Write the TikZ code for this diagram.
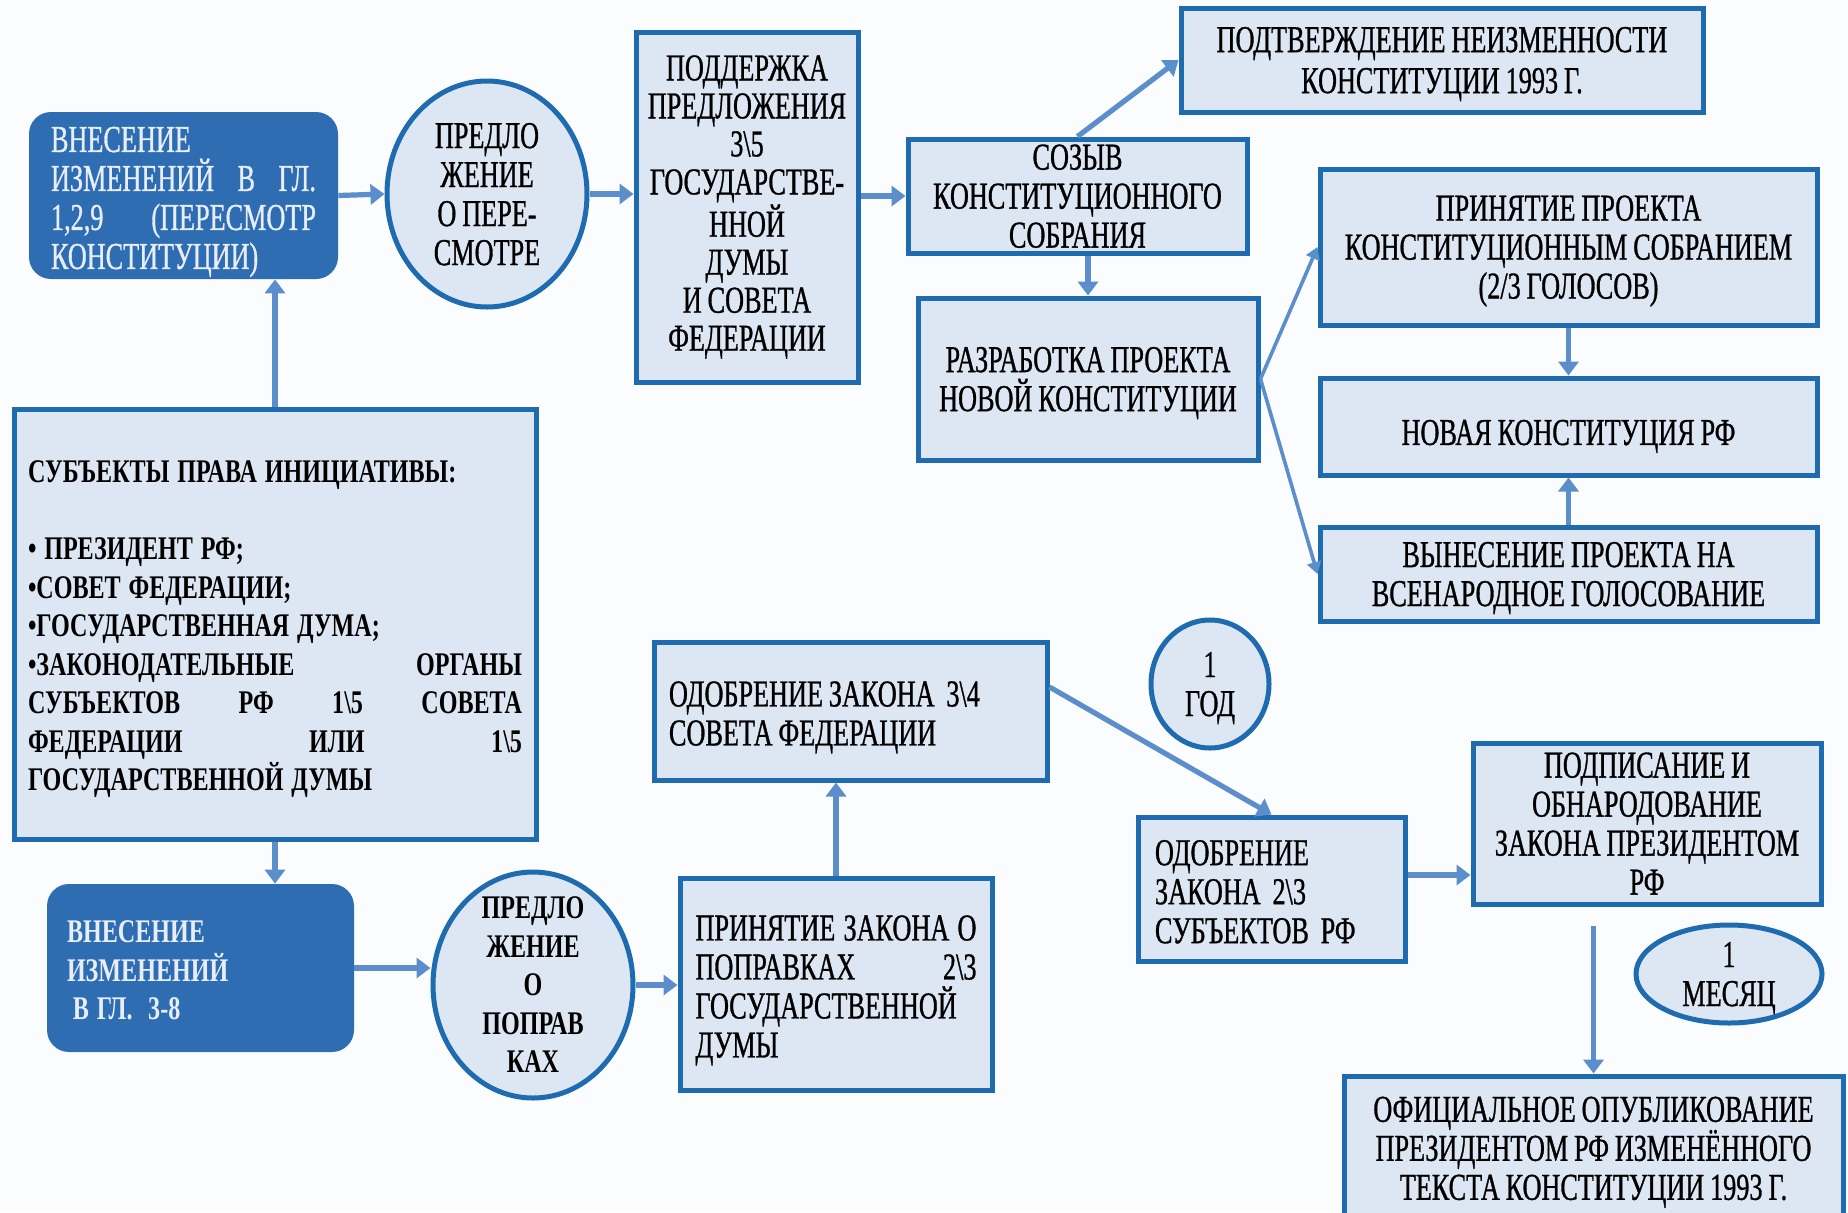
\documentclass[tikz,border=0pt]{standalone}
\usepackage{fontspec}
\setmainfont{Liberation Serif}
\newfontfamily\tallfont{Liberation Serif}[FakeStretch=0.69, FakeBold=0.8, WordSpace=0.9]
\newfontfamily\heavyfont{Liberation Serif}[FakeStretch=0.73, WordSpace=1.3]
\usetikzlibrary{arrows.meta,shapes.geometric}

\definecolor{edgeblue}{HTML}{1F6BB0}
\definecolor{paleblue}{HTML}{DDE7F3}
\definecolor{deepblue}{HTML}{2F6DB3}
\definecolor{arrowblue}{HTML}{5B8ECB}
\definecolor{bgwhite}{HTML}{FAFCFE}
\definecolor{lighttext}{HTML}{E8EEF7}

\newcommand{\boxfont}{\tallfont\fontsize{19}{19.5}\selectfont}
\newcommand{\heavybox}{\heavyfont\fontsize{16.5}{19.25}\selectfont\bfseries}
\newcommand{\bsl}{\textbackslash}

\tikzset{
  padded/.style={execute at begin node={\rule{0pt}{\dimexpr1em+#1\relax}},
    execute at end node={\rule[-0.2em]{0pt}{0pt}}},
  padded/.default=0pt,
  stage/.style={draw=edgeblue, line width=2.5pt, fill=paleblue, inner sep=0pt,
    align=center, font=\boxfont, padded},
  chapter/.style={fill=deepblue, rounded corners=11pt, text=lighttext, inner sep=0pt,
    align=flush left, font=\boxfont, padded},
  offer/.style={ellipse, draw=edgeblue, line width=2.5pt, fill=paleblue,
    inner xsep=0pt, inner ysep=-14pt, align=center, font=\boxfont, text depth=-4.5pt},
  heavy/.style={font=\heavybox},
  link/.style={draw=arrowblue, line width=2.6pt, -{Triangle[width=10pt,length=7pt]}},
  thinlink/.style={link, line width=1.8pt, -{Triangle[width=7pt,length=6pt]}},
}

\begin{document}
\begin{tikzpicture}[x=0.5pt, y=-0.5pt]
  \fill[bgwhite] (0,0) rectangle (1848,1212);
  \useasboundingbox (0,0) rectangle (1848,1212);

  \node[chapter, minimum width=154.5pt, minimum height=83.5pt, text width=132.5pt] (ch129) at (183.5,195.5)
    {ВНЕСЕНИЕ\\ИЗМЕНЕНИЙ\hfill В\hfill ГЛ.\\1,2,9\hfill (ПЕРЕСМОТР\\КОНСТИТУЦИИ)};
  \node[offer, minimum width=100pt, minimum height=113pt] (offer1) at (487,194)
    {ПРЕДЛО\\ЖЕНИЕ\\О ПЕРЕ-\\СМОТРЕ};
  \node[stage, minimum width=111pt, minimum height=175pt, font=\tallfont\fontsize{19}{19}\selectfont] (support) at (747,207)
    {ПОДДЕРЖКА\\ПРЕДЛОЖЕНИЯ\\3\bsl 5\\ГОСУДАРСТВЕ-\\ННОЙ\\ДУМЫ\\И СОВЕТА\\ФЕДЕРАЦИИ};
  \node[stage, minimum width=169.5pt, minimum height=57pt, text depth=-0.9pt] (sozyv) at (1077.5,196)
    {СОЗЫВ\\КОНСТИТУЦИОННОГО\\СОБРАНИЯ};
  \node[stage, minimum width=261pt, minimum height=52pt, text depth=-2pt, font=\tallfont\fontsize{19}{20.5}\selectfont] (confirm) at (1442,60)
    {ПОДТВЕРЖДЕНИЕ НЕИЗМЕННОСТИ\\КОНСТИТУЦИИ 1993 Г.};
  \node[stage, minimum width=170pt, minimum height=81pt, text depth=-2.3pt] (draft) at (1088,379)
    {РАЗРАБОТКА ПРОЕКТА\\НОВОЙ КОНСТИТУЦИИ};
  \node[stage, minimum width=248.5pt, minimum height=78pt, text depth=-7pt] (adopt) at (1568.5,247)
    {ПРИНЯТИЕ ПРОЕКТА\\КОНСТИТУЦИОННЫМ СОБРАНИЕМ\\(2/3 ГОЛОСОВ)};
  \node[stage, minimum width=248.5pt, minimum height=48.5pt, padded=3.5pt] (newconst) at (1568.5,426.5)
    {НОВАЯ КОНСТИТУЦИЯ РФ};
  \node[stage, minimum width=248.5pt, minimum height=47pt, text depth=-4.5pt, inner ysep=-1pt] (vote) at (1568.5,574)
    {ВЫНЕСЕНИЕ ПРОЕКТА НА\\ВСЕНАРОДНОЕ ГОЛОСОВАНИЕ};

  \node[stage, heavy, align=flush left, minimum width=261pt, minimum height=215pt, text width=247pt] (subjects) at (275,624)
    {СУБЪЕКТЫ ПРАВА ИНИЦИАТИВЫ:\\[19.25pt]
     • ПРЕЗИДЕНТ РФ;\\
     •СОВЕТ ФЕДЕРАЦИИ;\\
     •ГОСУДАРСТВЕННАЯ ДУМА;\\
     •ЗАКОНОДАТЕЛЬНЫЕ\hfill ОРГАНЫ\\
     СУБЪЕКТОВ\hfill РФ\hfill 1\bsl 5\hfill СОВЕТА\\
     ФЕДЕРАЦИИ\hfill ИЛИ\hfill 1\bsl 5\\
     ГОСУДАРСТВЕННОЙ ДУМЫ};

  \node[chapter, heavy, minimum width=153.5pt, minimum height=84pt, text width=133.5pt] (ch38) at (200.5,968)
    {ВНЕСЕНИЕ\\ИЗМЕНЕНИЙ\\\hspace*{3pt}В ГЛ.~~3-8};
  \node[offer, heavy, minimum width=100pt, minimum height=113pt, text depth=-5pt] (offer2) at (533,985)
    {ПРЕДЛО\\ЖЕНИЕ\\О\\ПОПРАВ\\КАХ};
  \node[stage, align=flush left, minimum width=156pt, minimum height=106pt, text width=140.5pt] (lawduma) at (836,984)
    {ПРИНЯТИЕ\hfill ЗАКОНА\hfill О\\ПОПРАВКАХ\hfill 2\bsl 3\\ГОСУДАРСТВЕННОЙ\\ДУМЫ};
  \node[stage, align=flush left, minimum width=196.5pt, minimum height=69pt, text width=181.5pt] (lawfed) at (850.5,711)
    {ОДОБРЕНИЕ ЗАКОНА~~3\bsl 4\\СОВЕТА ФЕДЕРАЦИИ};
  \node[offer, minimum width=59pt, minimum height=64pt, text depth=-3.5pt] (year) at (1210,684) {1\\ГОД};
  \node[stage, align=flush left, minimum width=133.5pt, minimum height=72pt, text width=116.5pt] (regions) at (1271.5,889)
    {ОДОБРЕНИЕ\\ЗАКОНА~~2\bsl 3\\СУБЪЕКТОВ~~РФ};
  \node[stage, minimum width=174pt, minimum height=80.5pt, text depth=-3pt] (sign) at (1647,823.5)
    {ПОДПИСАНИЕ И\\ОБНАРОДОВАНИЕ\\ЗАКОНА ПРЕЗИДЕНТОМ\\РФ};
  \node[offer, minimum width=93pt, minimum height=49pt, text depth=-3pt] (month) at (1729,974) {1\\МЕСЯЦ};
  \node[stage, minimum width=249.5pt, minimum height=73pt, text depth=0.8pt] (publish) at (1593.5,1149)
    {ОФИЦИАЛЬНОЕ ОПУБЛИКОВАНИЕ\\ПРЕЗИДЕНТОМ РФ ИЗМЕНЁННОГО\\ТЕКСТА КОНСТИТУЦИИ 1993 Г.};

  \draw[link] (ch129.east) -- (offer1.west);
  \draw[link] (offer1.east) -- (offer1.east -| support.west);
  \draw[link] (support.east |- sozyv.west) -- (sozyv.west);
  \draw[link] (sozyv.north) -- (confirm.west);
  \draw[link] (draft.north |- sozyv.south) -- (draft.north);
  \draw[thinlink] (draft.east) -- (adopt.west);
  \draw[thinlink] (draft.east) -- (vote.west);
  \draw[link] (adopt.south) -- (newconst.north);
  \draw[link] (vote.north) -- (newconst.south);
  \draw[link] (subjects.north) -- (subjects.north |- ch129.south);
  \draw[link] (subjects.south) -- (subjects.south |- ch38.north);
  \draw[link] (ch38.east) -- (ch38.east -| offer2.west);
  \draw[link] (offer2.east) -- (offer2.east -| lawduma.west);
  \draw[link] (lawduma.north) -- (lawduma.north |- lawfed.south);
  \draw[link] ([yshift=12pt]lawfed.east) -- (regions.north);
  \draw[link] ([yshift=7pt]regions.east) -- ([yshift=7pt]regions.east -| sign.west);
  \draw[link] ([yshift=-9.5pt]sign.south -| publish.north) -- (publish.north);
\end{tikzpicture}
\end{document}
